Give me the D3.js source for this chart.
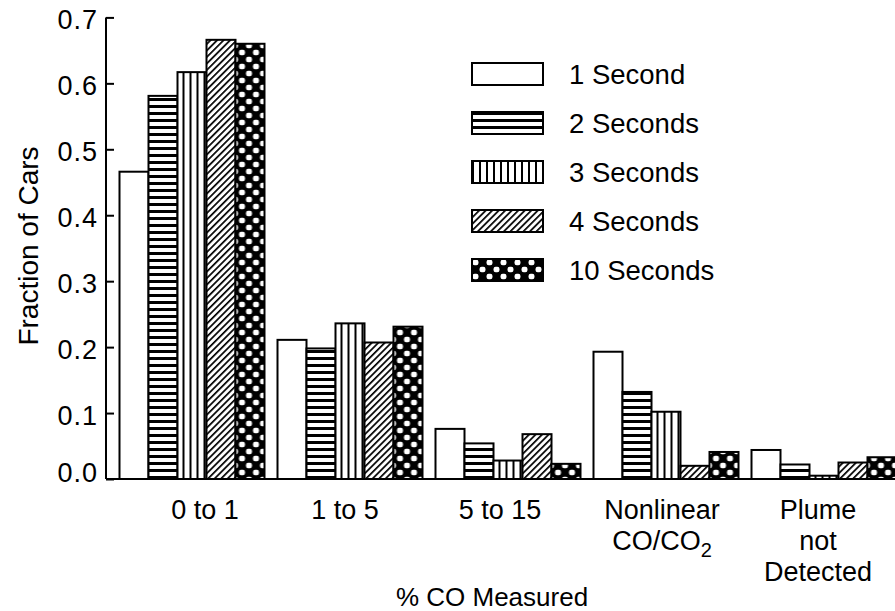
<!DOCTYPE html>
<html>
<head>
<meta charset="utf-8">
<script src="https://cdn.jsdelivr.net/npm/d3@7"></script>
<style>
  body { margin: 0; background: #fff; }
  svg text { font-family: "Liberation Sans", Arial, Helvetica, sans-serif; fill: #000; }
</style>
</head>
<body>
<svg id="chart" width="895" height="611"></svg>
<script>
// Measurement categories (x groups) and their multi-line labels
const categories = ["0 to 1", "1 to 5", "5 to 15", "Nonlinear CO/CO2", "Plume not Detected"];
const categoryLines = [["0 to 1"], ["1 to 5"], ["5 to 15"], ["Nonlinear", "CO/CO\u2082"], ["Plume", "not", "Detected"]];

// Averaging times (series)
const seriesNames = ["1 Second", "2 Seconds", "3 Seconds", "4 Seconds", "10 Seconds"];

// Fraction of cars per category for each averaging time
const oneSecond    = [0.466, 0.211, 0.076, 0.193, 0.044];
const twoSeconds   = [0.581, 0.198, 0.054, 0.132, 0.022];
const threeSeconds = [0.617, 0.236, 0.028, 0.102, 0.005];
const fourSeconds  = [0.666, 0.207, 0.068, 0.020, 0.025];
const tenSeconds   = [0.660, 0.231, 0.023, 0.041, 0.033];

const yTickValues = [0.0, 0.1, 0.2, 0.3, 0.4, 0.5, 0.6, 0.7];

const yTitle = "Fraction of Cars";
const xTitle = "% CO Measured";

const seriesValues = [oneSecond, twoSeconds, threeSeconds, fourSeconds, tenSeconds];
const patternIds = ["fill-1s", "fill-2s", "fill-3s", "fill-4s", "fill-10s"];

// horizontal nudges for the category labels under each group (px)
const labelNudge = [13, -5, -8, -4, -6];

const svg = d3.select("#chart");

// ---- hatch patterns ----
const defs = svg.append("defs");

// plain white
const p1 = defs.append("pattern").attr("id", "fill-1s").attr("patternUnits", "userSpaceOnUse")
  .attr("width", 4).attr("height", 4);
p1.append("rect").attr("width", 4).attr("height", 4).attr("fill", "#fff");

// horizontal stripes
const p2 = defs.append("pattern").attr("id", "fill-2s").attr("patternUnits", "userSpaceOnUse")
  .attr("width", 7).attr("height", 7);
p2.append("rect").attr("width", 7).attr("height", 7).attr("fill", "#fff");
p2.append("rect").attr("width", 7).attr("height", 3).attr("fill", "#000");

// vertical stripes
const p3 = defs.append("pattern").attr("id", "fill-3s").attr("patternUnits", "userSpaceOnUse")
  .attr("width", 7).attr("height", 7);
p3.append("rect").attr("width", 7).attr("height", 7).attr("fill", "#fff");
p3.append("rect").attr("width", 2).attr("height", 7).attr("fill", "#000");

// diagonal hatching
const p4 = defs.append("pattern").attr("id", "fill-4s").attr("patternUnits", "userSpaceOnUse")
  .attr("width", 4.6).attr("height", 4.6).attr("patternTransform", "rotate(45)");
p4.append("rect").attr("width", 4.6).attr("height", 4.6).attr("fill", "#fff");
p4.append("rect").attr("width", 1.7).attr("height", 4.6).attr("fill", "#000");

// black with white dots
const p10 = defs.append("pattern").attr("id", "fill-10s").attr("patternUnits", "userSpaceOnUse")
  .attr("width", 14).attr("height", 14);
p10.append("rect").attr("width", 14).attr("height", 14).attr("fill", "#000");
p10.append("rect").attr("x", 0.5).attr("y", 0.8).attr("width", 6).attr("height", 5.4)
  .attr("rx", 2.2).attr("fill", "#fff");
p10.append("rect").attr("x", 7.5).attr("y", 7.8).attr("width", 6).attr("height", 5.4)
  .attr("rx", 2.2).attr("fill", "#fff");

// ---- scales ----
const y = d3.scaleLinear().domain([0, 0.7]).range([479, 17.4]);
const x0 = d3.scaleBand().domain(categories).range([119.5, 896.5])
  .paddingInner(13 / 158).paddingOuter(0);
const x1 = d3.scaleBand().domain(seriesNames).range([0, x0.bandwidth()]);

const axisX = 106;

// ---- bars ----
const groups = svg.append("g").selectAll("g")
  .data(categories)
  .join("g")
  .attr("transform", d => `translate(${x0(d)},0)`);

groups.selectAll("rect")
  .data((c, ci) => seriesNames.map((s, si) => ({ s, si, v: seriesValues[si][ci] })))
  .join("rect")
  .attr("x", d => x1(d.s))
  .attr("y", d => y(d.v))
  .attr("width", x1.bandwidth())
  .attr("height", d => y(0) - y(d.v))
  .attr("fill", d => `url(#${patternIds[d.si]})`)
  .attr("stroke", "#000")
  .attr("stroke-width", 2);

// ---- y axis ----
const yAxis = d3.axisRight(y)
  .tickValues(yTickValues)
  .tickFormat(d3.format(".1f"))
  .tickSize(8);

const yg = svg.append("g")
  .attr("transform", `translate(${axisX},0)`)
  .call(yAxis);
yg.select(".domain").attr("stroke", "#000").attr("stroke-width", 2).attr("d", `M0,${y(0)}V${y(0.7)}`);
yg.selectAll(".tick line").attr("stroke", "#000").attr("stroke-width", 2);
yg.selectAll(".tick text")
  .attr("x", -8)
  .attr("text-anchor", "end")
  .attr("font-size", 27)
  .attr("letter-spacing", 1)
  .attr("dy", d => d === 0 ? "0.1em" : "0.42em")
  .style("font-family", '"Liberation Sans", Arial, sans-serif');

// ---- x axis baseline ----
const xAxis = d3.axisBottom(x0).tickSize(0).tickFormat("");
const xg = svg.append("g")
  .attr("transform", `translate(0,${y(0)})`)
  .call(xAxis);
xg.select(".domain").attr("stroke", "#000").attr("stroke-width", 2)
  .attr("d", `M${axisX},0H895`);

// category labels
const labelG = svg.append("g");
categories.forEach((c, i) => {
  const cx = x0(c) + x0.bandwidth() / 2 + labelNudge[i];
  const t = labelG.append("text")
    .attr("x", cx)
    .attr("y", 519)
    .attr("text-anchor", "middle")
    .attr("font-size", 27);
  categoryLines[i].forEach((line, li) => {
    const ts = t.append("tspan")
      .attr("x", cx)
      .attr("dy", li === 0 ? 0 : 31);
    if (line.endsWith("\u2082")) {
      ts.text(line.slice(0, -1));
      ts.append("tspan").attr("font-size", 20).attr("dy", 7).text("2");
    } else {
      ts.text(line);
    }
  });
});

// axis titles
svg.append("text")
  .attr("transform", `translate(38,246) rotate(-90)`)
  .attr("text-anchor", "middle")
  .attr("font-size", 28)
  .text(yTitle);

svg.append("text")
  .attr("x", 492)
  .attr("y", 606)
  .attr("text-anchor", "middle")
  .attr("font-size", 26)
  .text(xTitle);

// ---- legend ----
const legend = svg.append("g").attr("transform", "translate(472,63)");
const rows = legend.selectAll("g")
  .data(seriesNames)
  .join("g")
  .attr("transform", (d, i) => `translate(0,${i * 49})`);
rows.append("rect")
  .attr("width", 71)
  .attr("height", 22)
  .attr("fill", (d, i) => `url(#${patternIds[i]})`)
  .attr("stroke", "#000")
  .attr("stroke-width", 2);
rows.append("text")
  .attr("x", 97)
  .attr("y", 11)
  .attr("dy", "0.36em")
  .attr("font-size", 27.5)
  .text(d => d);
</script>
</body>
</html>
